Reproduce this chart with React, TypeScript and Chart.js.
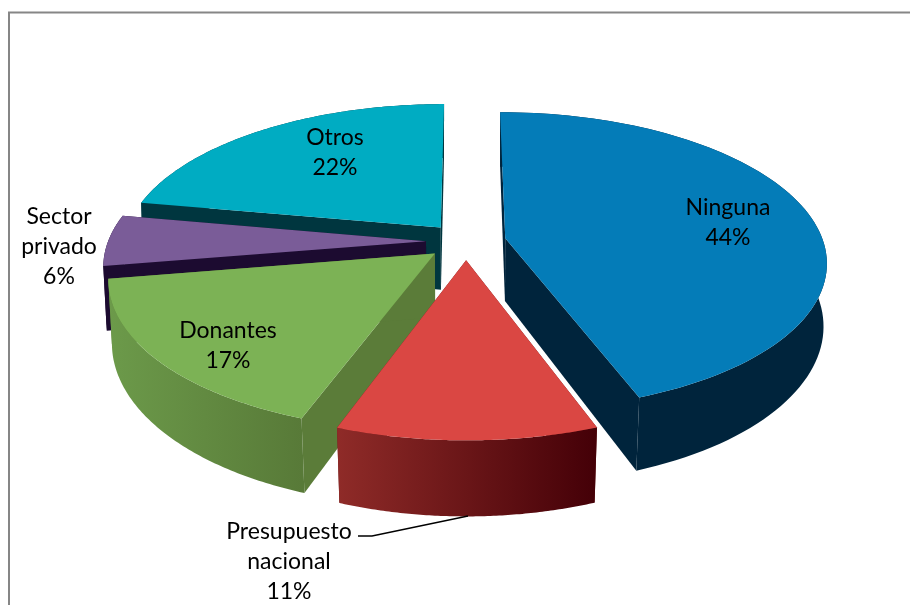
import React, { useEffect, useRef } from "react";
import { Chart, registerables } from "chart.js";

Chart.register(...registerables);

const categories = ["Ninguna", "Presupuesto nacional", "Donantes", "Sector privado", "Otros"];
const shares = [44.4, 11.12, 16.85, 5.5, 22.13];
const explode = [40, 40, 40, 40, 40];
const topColors = ["#047cb8", "#da4743", "#7cb255", "#7a5c98", "#00acc2"];
const wallStart = ["#00243c", "#8f2b28", "#6c9a4a", "#1c0b30", "#00363f"];
const wallEnd = ["#00243c", "#440007", "#587a38", "#1c0b30", "#00363f"];
const sideColors = ["#00243c", "#6a1a1a", "#5b7c39", "#1c0b30", "#00363f"];
const labelCentres = [
  [728, 208],
  [289, 531.5],
  [228, 331],
  [59, 217],
  [335, 138],
];

const CX = 466;
const CY = 241.5;
const RADIUS = 318;
const DEPTH = 63;
const PERSPECTIVE = 0.00048;
const TILT = 0.46;
const LINE_HEIGHT = 30;
const FONT = '23px Lato, "Open Sans", sans-serif';

type P = [number, number];

function project(u: number, v: number, lower: boolean): P {
  const s = 1 / (1 - PERSPECTIVE * v);
  const shrink = lower ? 0.992 - 0.00003 * v : 1;
  const x = CX + u * s * shrink;
  const y = CY + TILT * v * s + (lower ? DEPTH * s : 0);
  return [x, y];
}

function tracePolygon(ctx: CanvasRenderingContext2D, pts: P[]) {
  ctx.beginPath();
  pts.forEach((p, i) => (i === 0 ? ctx.moveTo(p[0], p[1]) : ctx.lineTo(p[0], p[1])));
  ctx.closePath();
}

const pie3d = {
  id: "pie3d",
  beforeDatasetDraw(chart: any) {
    const ctx: CanvasRenderingContext2D = chart.ctx;
    const meta = chart.getDatasetMeta(0);

    // chart frame
    ctx.save();
    ctx.strokeStyle = "#868686";
    ctx.lineWidth = 2;
    ctx.beginPath();
    ctx.moveTo(9, 605);
    ctx.lineTo(9, 12.5);
    ctx.lineTo(910, 12.5);
    ctx.stroke();

    // back to front
    const order = [4, 3, 2, 1, 0];
    order.forEach((i) => {
      const el = meta.data[i];
      const a0 = el.startAngle;
      const a1 = el.endAngle;
      const mid = (a0 + a1) / 2;
      const off = el.options.offset;
      const ou = off * Math.cos(mid);
      const ov = off * Math.sin(mid);
      const N = 90;
      const rimAngles: number[] = [];
      for (let k = 0; k <= N; k++) rimAngles.push(a0 + ((a1 - a0) * k) / N);
      const world = rimAngles.map((a) => [ou + RADIUS * Math.cos(a), ov + RADIUS * Math.sin(a)]);
      const topRim = world.map((w) => project(w[0], w[1], false));
      const lowRim = world.map((w) => project(w[0], w[1], true));
      const apexTop = project(ou, ov, false);
      const apexLow = project(ou, ov, true);

      // flat cut faces
      ctx.fillStyle = sideColors[i];
      tracePolygon(ctx, [apexTop, topRim[0], lowRim[0], apexLow]);
      ctx.fill();
      tracePolygon(ctx, [apexTop, topRim[N], lowRim[N], apexLow]);
      ctx.fill();

      // curved outer wall, shaded across its visible front part
      const front = topRim.filter((_, k) => world[k][1] > -20);
      const xs = (front.length ? front : topRim).map((p) => p[0]);
      const grad = ctx.createLinearGradient(Math.min(...xs), 0, Math.max(...xs), 0);
      grad.addColorStop(0, wallStart[i]);
      grad.addColorStop(1, wallEnd[i]);
      ctx.fillStyle = grad;
      tracePolygon(ctx, [...topRim, ...lowRim.slice().reverse()]);
      ctx.fill();

      // top face
      ctx.fillStyle = topColors[i];
      tracePolygon(ctx, [apexTop, ...topRim]);
      ctx.fill();
    });

    // leader line of the small slice label
    ctx.strokeStyle = "#000000";
    ctx.lineWidth = 1.3;
    ctx.beginPath();
    ctx.moveTo(358, 536);
    ctx.lineTo(372, 536);
    ctx.lineTo(468, 516);
    ctx.stroke();

    // labels
    ctx.fillStyle = "#000000";
    ctx.font = FONT;
    ctx.textAlign = "center";
    ctx.textBaseline = "middle";
    categories.forEach((name, i) => {
      const lines = [...name.split(" "), `${Math.round(shares[i])}%`];
      lines.forEach((line, j) => {
        ctx.fillText(line, labelCentres[i][0], labelCentres[i][1] + j * LINE_HEIGHT);
      });
    });
    ctx.restore();
    return false;
  },
};

export default function App() {
  const ref = useRef<HTMLCanvasElement>(null);
  useEffect(() => {
    const chart = new Chart(ref.current!, {
      type: "pie",
      data: {
        labels: categories,
        datasets: [{ data: shares, backgroundColor: topColors, offset: explode }],
      },
      options: {
        animation: false,
        responsive: false,
        plugins: { legend: { display: false }, tooltip: { enabled: false } },
      },
      plugins: [pie3d],
    } as any);
    return () => chart.destroy();
  }, []);
  return (
    <div style={{ position: "fixed", left: 0, top: 0, width: 910, height: 605, background: "#ffffff" }}>
      <canvas ref={ref} width={910} height={605} style={{ display: "block" }} />
    </div>
  );
}
